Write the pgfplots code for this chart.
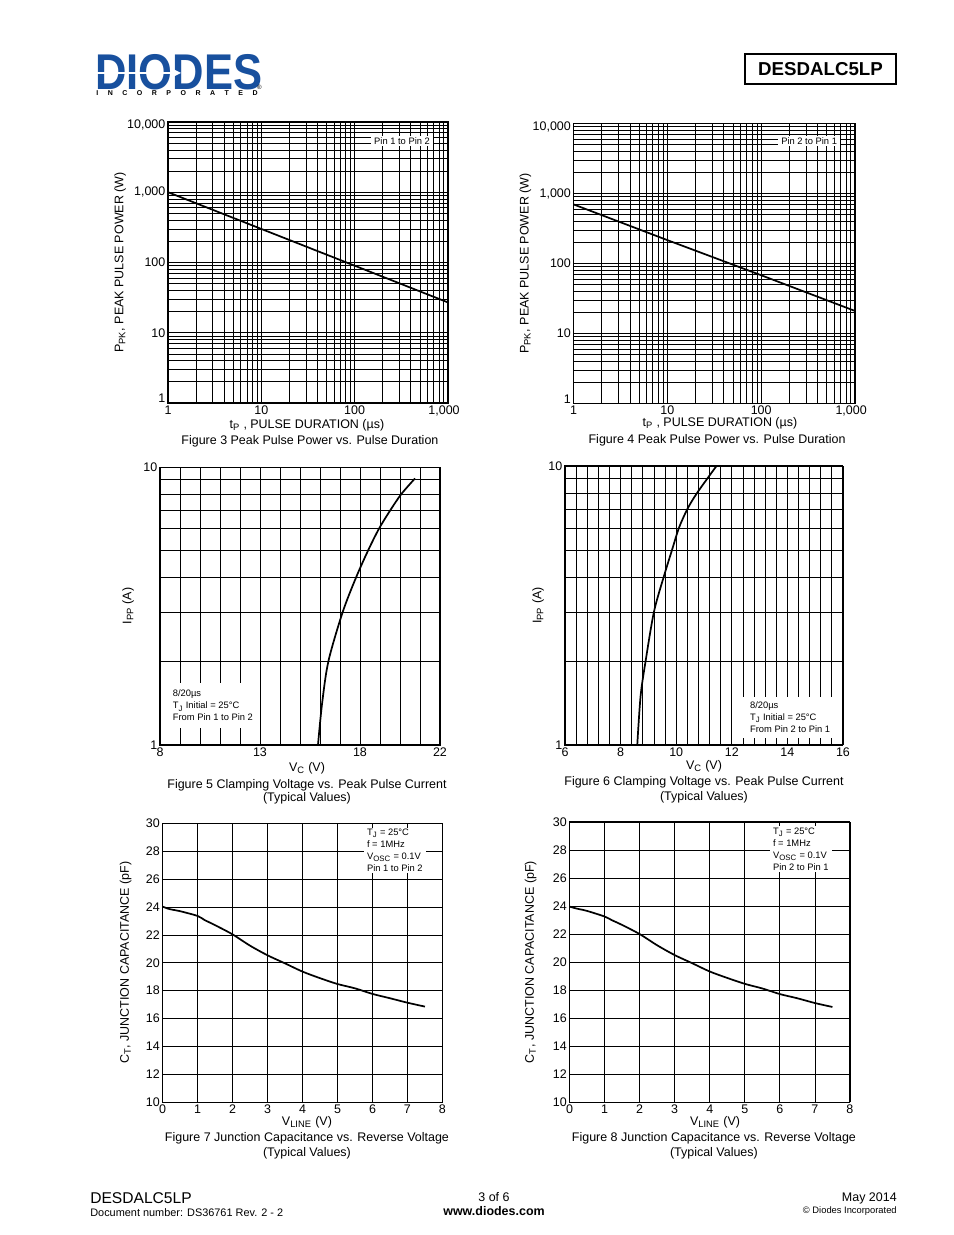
\documentclass[border=0pt]{standalone}
\usepackage{fontspec}
\setmainfont{Liberation Sans}
\usepackage{graphicx}
\usepackage{pgfplots}
\pgfplotsset{compat=1.18}
\definecolor{diodesblue}{RGB}{24,80,158}
\newcommand\sz[2]{\fontsize{#1}{#2}\selectfont}
\def\pxu{0.641509pt}
\newcommand\up[2]{\raisebox{#1}[\height][\depth]{#2}}
\pgfplotsset{
  dsaxis/.style={
    scale only axis, anchor=south west,
    axis line style={black, line width=0.7pt},
    grid=both,
    major grid style={black, line width=0.45pt},
    minor grid style={black, line width=0.45pt},
    major tick length=0pt, minor tick length=0pt,
    tick label style={font=\sz{8}{9.6}},
    label style={font=\sz{8}{9.6}},
    /pgf/number format/assume math mode=true,
    xticklabel style={inner sep=1.5pt},
    yticklabel style={inner sep=1.5pt},
    clip=false,
  },
  dscurve/.style={black, line width=1.1pt, no marks},
}
\tikzset{dsnote/.style={fill=white, inner xsep=2pt, inner ysep=1pt, font=\sz{6}{7.7}, align=left}}
\begin{document}
\begin{tikzpicture}
\begin{scope}[x=\pxu, y=-\pxu]
\path[use as bounding box] (0,0) rectangle (954,1235);
% logo
\node[inner sep=0, anchor=west, text=diodesblue] at (95,72.5) {\resizebox{107.1pt}{22.5pt}{\bfseries DIODES}};
\draw[white, line width=1.2pt] (96,73) -- (175,73);
\fill[white] (174,69.5) -- (181,73) -- (174,76.5) -- cycle;
\node[inner sep=0, anchor=west] at (96,93.5) {\sz{4.5}{5}\bfseries\makebox[103.5pt]{I\hfill N\hfill C\hfill O\hfill R\hfill P\hfill O\hfill R\hfill A\hfill T\hfill E\hfill D}};
\node[inner sep=0] at (259.5,87.5) {\sz{4}{5}®};
% header box
\draw[line width=0.8pt] (745,54) rectangle (896,84);
\node at (820.5,69) {\sz{12}{14}\bfseries DESDALC5LP};
% footer
\node[anchor=west, inner sep=0] at (90,1198) {\sz{10}{12}DESDALC5LP};
\node[anchor=west, inner sep=0] at (90,1213) {\sz{7}{8.4}Document number: DS36761 Rev. 2 - 2};
\node[inner sep=0] at (494,1197) {\sz{8}{9.6}3 of 6};
\node[inner sep=0] at (494,1211) {\sz{8}{9.6}\bfseries www.diodes.com};
\node[anchor=east, inner sep=0] at (897,1198) {\sz{8}{9.6}May 2014};
\node[anchor=east, inner sep=0] at (897,1211) {\sz{6}{7.2}© Diodes Incorporated};
\end{scope}

% Figure 3
\begin{loglogaxis}[dsaxis, at={(168*\pxu,-403*\pxu)}, width=179.6pt, height=180.3pt,
  xmin=1, xmax=1000, ymin=1, ymax=10000,
  xtick={1,10,100,1000}, xticklabels={1,10,100,{\hspace*{-5pt}1,000}},
  ytick={1,10,100,1000,10000}, yticklabels={{\up{3pt}{1}},10,100,{1,000},{\up{-2pt}{10,000}}},
  minor xtick={2,3,4,5,6,7,8,9,20,30,40,50,60,70,80,90,200,300,400,500,600,700,800,900},
  minor ytick={2,3,4,5,6,7,8,9,20,30,40,50,60,70,80,90,200,300,400,500,600,700,800,900,2000,3000,4000,5000,6000,7000,8000,9000},
  xlabel={t\textsubscript{P} , PULSE DURATION (µs)},
  ylabel={P\textsubscript{PK}, PEAK PULSE POWER (W)},
  xlabel style={at={(axis description cs:0.496,-0.078)}, anchor=center},
  ylabel style={at={(axis description cs:-0.171,0.5)}, anchor=center}]
\addplot[dscurve] coordinates {(1,1000) (10,300) (100,90) (1000,27)};
\node[dsnote] at (rel axis cs:0.836,0.932) {Pin 1 to Pin 2};
\node[font=\sz{8}{9.6}] at (axis description cs:0.507,-0.135) {Figure 3 Peak Pulse Power vs. Pulse Duration};
\end{loglogaxis}

% Figure 4
\begin{loglogaxis}[dsaxis, at={(573.5*\pxu,-403.5*\pxu)}, width=180.6pt, height=179.6pt,
  xmin=1, xmax=1000, ymin=1, ymax=10000,
  xtick={1,10,100,1000}, xticklabels={1,10,100,{\hspace*{-5pt}1,000}},
  ytick={1,10,100,1000,10000}, yticklabels={{\up{3pt}{1}},10,100,{1,000},{\up{-2pt}{10,000}}},
  minor xtick={2,3,4,5,6,7,8,9,20,30,40,50,60,70,80,90,200,300,400,500,600,700,800,900},
  minor ytick={2,3,4,5,6,7,8,9,20,30,40,50,60,70,80,90,200,300,400,500,600,700,800,900,2000,3000,4000,5000,6000,7000,8000,9000},
  xlabel={t\textsubscript{P} , PULSE DURATION (µs)},
  ylabel={P\textsubscript{PK}, PEAK PULSE POWER (W)},
  xlabel style={at={(axis description cs:0.52,-0.069)}, anchor=center},
  ylabel style={at={(axis description cs:-0.171,0.5)}, anchor=center}]
\addplot[dscurve] coordinates {(1,700) (10,216) (100,68) (1000,21)};
\node[dsnote] at (rel axis cs:0.837,0.9375) {Pin 2 to Pin 1};
\node[font=\sz{8}{9.6}] at (axis description cs:0.51,-0.13) {Figure 4 Peak Pulse Power vs. Pulse Duration};
\end{loglogaxis}

% Figure 5
\begin{semilogyaxis}[dsaxis, at={(160*\pxu,-745*\pxu)}, width=179.6pt, height=178.3pt,
  xmin=8, xmax=22, ymin=1, ymax=10,
  xtick={8,13,18,22}, minor xtick={9,10,11,12,14,15,16,17,19,20,21},
  ytick={1,10}, yticklabels={1,10}, minor ytick={2,3,4,5,6,7,8,9},
  xlabel={V\textsubscript{C} (V)}, ylabel={I\textsubscript{PP} (A)},
  xlabel style={at={(axis description cs:0.525,-0.083)}, anchor=center},
  ylabel style={at={(axis description cs:-0.114,0.5)}, anchor=center}]
\addplot[dscurve, smooth] coordinates {(15.9,1) (16.1,1.4) (16.42,2) (17.13,3) (17.8,4) (18.4,5) (18.95,6) (19.52,7) (20.07,8) (20.75,9.1)};
\node[dsnote, minimum width=57.7pt, minimum height=28.9pt] at (rel axis cs:0.189,0.142) {8/20µs\\T\textsubscript{J} Initial = 25°C\\From Pin 1 to Pin 2};
\node[font=\sz{8}{9.6}] at (axis description cs:0.525,-0.144) {Figure 5 Clamping Voltage vs. Peak Pulse Current};
\node[font=\sz{8}{9.6}] at (axis description cs:0.525,-0.19) {(Typical Values)};
\end{semilogyaxis}

% Figure 6
\begin{semilogyaxis}[dsaxis, at={(565*\pxu,-745*\pxu)}, width=178.3pt, height=179.0pt,
  xmin=6, xmax=16, ymin=1, ymax=10,
  xtick={6,8,10,12,14,16},
  minor xtick={6.4,6.8,7.2,7.6,8.4,8.8,9.2,9.6,10.4,10.8,11.2,11.6,12.4,12.8,13.2,13.6,14.4,14.8,15.2,15.6},
  ytick={1,10}, yticklabels={1,10}, minor ytick={2,3,4,5,6,7,8,9},
  xlabel={V\textsubscript{C} (V)}, ylabel={I\textsubscript{PP} (A)},
  xlabel style={at={(axis description cs:0.5,-0.075)}, anchor=center},
  ylabel style={at={(axis description cs:-0.097,0.5)}, anchor=center}]
\addplot[dscurve, smooth] coordinates {(8.6,1) (8.72,1.5) (8.9,2) (9.2,3) (9.55,4) (9.85,5) (10.1,6) (10.4,7) (10.75,8) (11.45,10)};
\node[dsnote, minimum width=61pt, minimum height=26.3pt] at (rel axis cs:0.81,0.0986) {8/20µs\\T\textsubscript{J} Initial = 25°C\\From Pin 2 to Pin 1};
\node[font=\sz{8}{9.6}] at (axis description cs:0.5,-0.133) {Figure 6 Clamping Voltage vs. Peak Pulse Current};
\node[font=\sz{8}{9.6}] at (axis description cs:0.5,-0.186) {(Typical Values)};
\end{semilogyaxis}

% Figure 7
\begin{axis}[dsaxis, at={(162.5*\pxu,-1102.3*\pxu)}, width=179.6pt, height=179.0pt,
  xmin=0, xmax=8, ymin=10, ymax=30,
  xtick={0,1,...,8}, ytick={10,12,...,30}, grid=major,
  xlabel={V\textsubscript{LINE} (V)},
  ylabel={C\textsubscript{T}, JUNCTION CAPACITANCE (pF)},
  xlabel style={at={(axis description cs:0.516,-0.072)}, anchor=center},
  ylabel style={at={(axis description cs:-0.132,0.5)}, anchor=center}]
\addplot[dscurve, smooth] coordinates {(0,24.03) (0.2,23.85) (0.5,23.7) (1,23.36) (1.2,23.07) (1.5,22.7) (2,22.04) (2.5,21.23) (3,20.54) (3.5,19.96) (4,19.37) (4.5,18.9) (5,18.48) (5.5,18.17) (6,17.77) (6.5,17.46) (7,17.14) (7.5,16.86)};
\node[dsnote] at (rel axis cs:0.83,0.9025) {T\textsubscript{J} = 25°C\\f = 1MHz\\V\textsubscript{OSC} = 0.1V\\Pin 1 to Pin 2};
\node[font=\sz{8}{9.6}] at (axis description cs:0.516,-0.129) {Figure 7 Junction Capacitance vs. Reverse Voltage};
\node[font=\sz{8}{9.6}] at (axis description cs:0.516,-0.183) {(Typical Values)};
\end{axis}

% Figure 8
\begin{axis}[dsaxis, at={(569.5*\pxu,-1102.3*\pxu)}, width=179.9pt, height=179.9pt,
  xmin=0, xmax=8, ymin=10, ymax=30,
  xtick={0,1,...,8}, ytick={10,12,...,30}, grid=major,
  xlabel={V\textsubscript{LINE} (V)},
  ylabel={C\textsubscript{T}, JUNCTION CAPACITANCE (pF)},
  xlabel style={at={(axis description cs:0.519,-0.072)}, anchor=center},
  ylabel style={at={(axis description cs:-0.139,0.5)}, anchor=center}]
\addplot[dscurve, smooth] coordinates {(0,23.96) (0.2,23.82) (0.5,23.65) (1,23.25) (1.2,23.0) (1.5,22.65) (2,22.0) (2.5,21.2) (3,20.5) (3.5,19.92) (4,19.33) (4.5,18.87) (5,18.45) (5.5,18.12) (6,17.72) (6.5,17.42) (7,17.08) (7.5,16.8)};
\node[dsnote] at (rel axis cs:0.825,0.9025) {T\textsubscript{J} = 25°C\\f = 1MHz\\V\textsubscript{OSC} = 0.1V\\Pin 2 to Pin 1};
\node[font=\sz{8}{9.6}] at (axis description cs:0.515,-0.129) {Figure 8 Junction Capacitance vs. Reverse Voltage};
\node[font=\sz{8}{9.6}] at (axis description cs:0.515,-0.183) {(Typical Values)};
\end{axis}
\end{tikzpicture}
\end{document}
